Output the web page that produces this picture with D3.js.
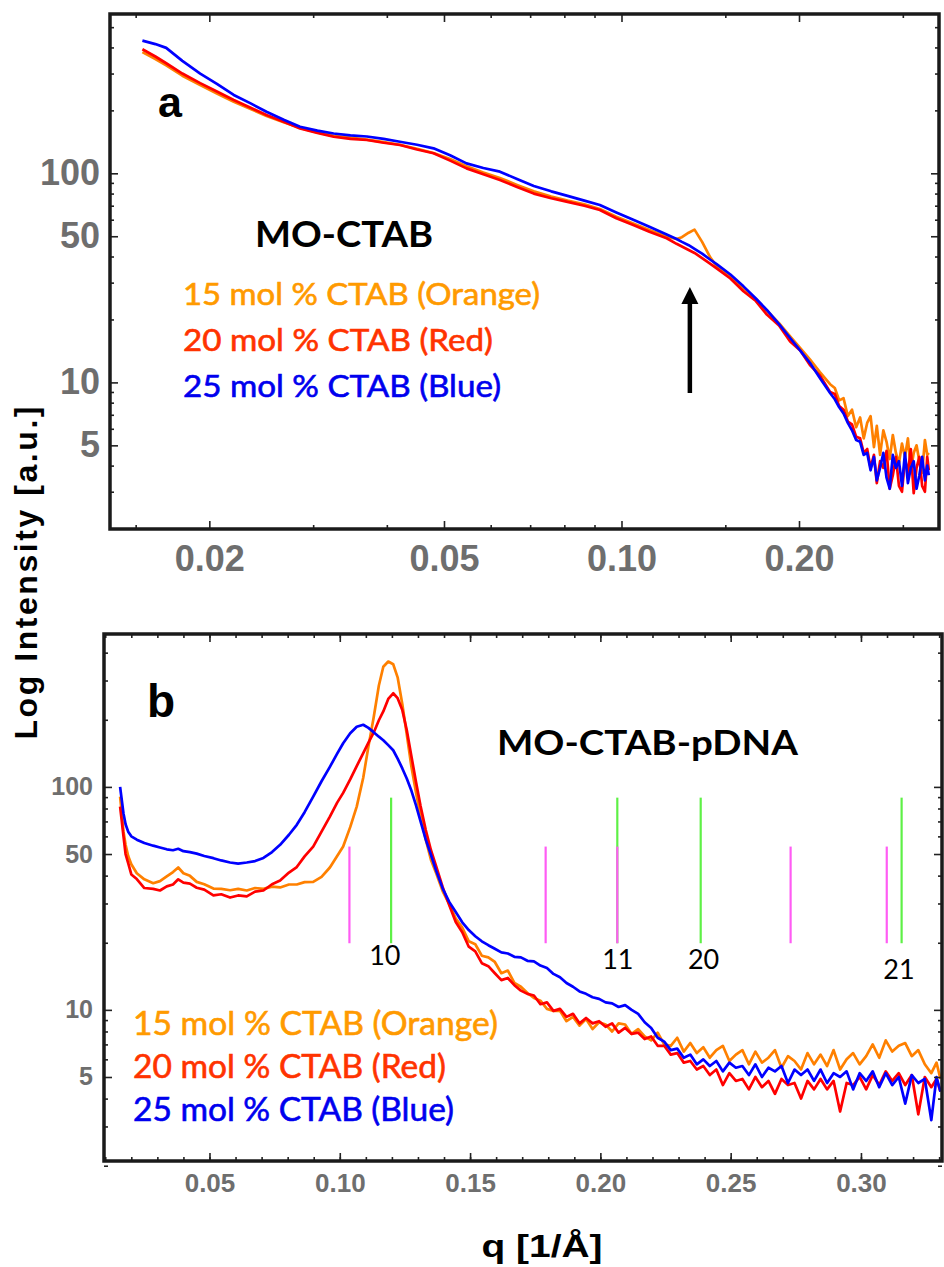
<!DOCTYPE html>
<html>
<head>
<meta charset="utf-8">
<script src="https://cdn.jsdelivr.net/npm/d3@7"></script>
<style>
  html, body { margin: 0; padding: 0; background: #fff; }
  svg { display: block; }
</style>
</head>
<body>
<div id="chart"></div>
<script>
// series labels and colours
const seriesNames = ['15 mol % CTAB (Orange)', '20 mol % CTAB (Red)', '25 mol % CTAB (Blue)'];
const lineColors = ['#ff8000', '#ff0000', '#0000ff'];
const legendColors = ['#ff9a00', '#ff3300', '#0000ee'];

// panel a : MO-CTAB (log q, log I)
const qA = [
  0.0154, 0.0162, 0.0169, 0.0180, 0.0193, 0.0206, 0.0220, 0.0235, 0.0250, 0.0268,
  0.0285, 0.0305, 0.0325, 0.0347, 0.0370, 0.0395, 0.0421, 0.0450, 0.0480, 0.0512,
  0.0546, 0.0583, 0.0622, 0.0665, 0.0710, 0.0760, 0.0810, 0.0865, 0.0919, 0.0980,
  0.1047, 0.1115, 0.1193, 0.1240, 0.1266, 0.1300, 0.1330, 0.1370, 0.1415, 0.1450,
  0.1530, 0.1610, 0.1690, 0.1764, 0.1850, 0.1932, 0.2010, 0.2087, 0.2170, 0.2258,
  0.2300, 0.2340, 0.2380, 0.2420, 0.2460, 0.2500, 0.2539, 0.2575, 0.2610, 0.2645,
  0.2680, 0.2710, 0.2745, 0.2780, 0.2815, 0.2850, 0.2885, 0.2920, 0.2955, 0.2990,
  0.3025, 0.3060, 0.3095, 0.3130, 0.3165, 0.3200, 0.3235, 0.3270, 0.3300, 0.3320
];
const orangeA = [
  380, 352, 328, 293, 264, 241, 220, 203, 188, 175,
  165, 157, 151, 148, 145, 141, 137, 131, 125, 117,
  108, 101, 95, 88, 82, 77.5, 74, 71, 67.5, 62,
  57.5, 53.5, 49.8, 48.5, 49.5, 52, 53.8, 47, 39.5, 36,
  32, 28.3, 25, 22, 19.2, 16.6, 14.6, 12.9, 11.2, 9.8,
  9.4, 8.2, 8.4, 6.9, 7.4, 6.1, 6.8, 5.4, 6.4, 6.9,
  4.9, 6.2, 4.5, 5.9, 5.2, 4.3, 5.6, 4.6, 4.1, 5.1,
  4.4, 5.4, 3.8, 4.6, 5.0, 4.2, 3.7, 5.3, 4.5, 4.6
];
const redA = [
  392, 362, 336, 300, 270, 246, 224, 206, 190, 176,
  164, 156, 149.6, 146, 144.3, 140, 136.6, 130, 124.7, 115,
  105.6, 99, 92.9, 86, 80, 76, 73, 70, 66.8, 61,
  56.6, 52.5, 48.9, 46, 44.7, 43.0, 41.6, 39.3, 36.9, 35.1,
  31.4, 27.3, 24.5, 21.1, 18.7, 15.7, 14.2, 12.1, 10.8, 9.0,
  8.8, 7.7, 7.4, 6.5, 6.3, 5.5, 5.4, 4.6, 4.8, 3.9,
  4.5, 3.3, 4.2, 3.9, 4.7, 3.1, 3.6, 4.4, 3.2, 3.0,
  4.3, 3.7, 4.8, 2.95, 3.9, 4.4, 3.2, 3.0, 4.4, 3.8
];
const blueA = [
  431, 415, 398, 345, 300, 268, 237, 216, 197, 180,
  167, 160, 155, 152, 150, 146, 141.6, 137, 131.7, 122,
  111.6, 106, 101.8, 94, 87, 82, 78, 74, 70.5, 65,
  60, 55.5, 51, 48.5, 47, 45.3, 43.5, 41.3, 38.6, 36.8,
  32.8, 28.8, 25.2, 22.2, 19.0, 16.3, 14.2, 12.4, 10.5, 8.9,
  8.3, 7.6, 7.1, 6.4, 5.9, 5.3, 5.2, 4.5, 4.6, 3.8,
  4.4, 3.4, 3.9, 4.6, 3.5, 3.1, 4.5, 3.9, 4.2, 3.2,
  4.6, 3.3, 3.9, 4.2, 3.1, 3.6, 4.4, 3.4, 4.0, 3.6
];

// panel b : MO-CTAB-pDNA (linear q, log I)
const qB = [
  0.0157, 0.0163, 0.0170, 0.0178, 0.0188, 0.0200, 0.0221, 0.0250, 0.0284, 0.0310,
  0.0336, 0.0360, 0.0380, 0.0400, 0.0425, 0.0451, 0.0480, 0.0515, 0.0545, 0.0579,
  0.0610, 0.0643, 0.0675, 0.0707, 0.0740, 0.0771, 0.0805, 0.0835, 0.0865, 0.0898,
  0.0930, 0.0962, 0.0990, 0.1013, 0.1040, 0.1065, 0.1090, 0.1110, 0.1130, 0.1150,
  0.1167, 0.1186, 0.1205, 0.1222, 0.1240, 0.1257, 0.1275, 0.1292, 0.1310, 0.1330,
  0.1350, 0.1370, 0.1395, 0.1420, 0.1445, 0.1470, 0.1495, 0.1520, 0.1545, 0.1570,
  0.1595, 0.1620, 0.1645, 0.1670, 0.1695, 0.1720, 0.1745, 0.1770, 0.1795, 0.1820,
  0.1845, 0.1870, 0.1895, 0.1920, 0.1945, 0.1970, 0.1995, 0.2020, 0.2045, 0.2070,
  0.2095, 0.2120, 0.2145, 0.2170, 0.2195, 0.2220, 0.2245, 0.2270, 0.2295, 0.2320,
  0.2345, 0.2370, 0.2395, 0.2420, 0.2445, 0.2470, 0.2495, 0.2520, 0.2545, 0.2570,
  0.2595, 0.2620, 0.2645, 0.2670, 0.2695, 0.2720, 0.2745, 0.2770, 0.2795, 0.2820,
  0.2845, 0.2870, 0.2895, 0.2920, 0.2945, 0.2970, 0.2995, 0.3020, 0.3045, 0.3070,
  0.3095, 0.3120, 0.3145, 0.3170, 0.3195, 0.3220, 0.3245, 0.3270, 0.3290, 0.3305
];
const orangeB = [
  90.5, 77, 63, 55, 49, 45, 41, 38.5, 37, 37.8,
  39.7, 41.5, 43.5, 41.0, 39.9, 37.5, 36.6, 35.0, 34.9, 34.4,
  34.9, 34.3, 35.2, 34.9, 35.7, 35.4, 36.5, 36.5, 37.4, 37.5,
  39.5, 43.5, 49, 54, 66, 81.6, 110, 152, 205, 285,
  346, 365, 355, 310, 235, 172, 123, 95, 74, 58,
  47, 41, 34, 29.8, 25.7, 23.4, 20.3, 19.7, 17.5, 17.2,
  16.4, 14.6, 15.0, 13.2, 12.7, 11.9, 11.3, 11.0, 10.1, 9.9,
  9.9, 8.9, 9.3, 8.5, 9.1, 8.2, 8.8, 8.6, 8.0, 8.7,
  8.6, 7.8, 8.2, 7.6, 7.3, 7.9, 7.0, 6.9, 7.5, 6.5,
  7.1, 6.4, 6.8, 6.1, 6.6, 6.9, 5.9, 6.3, 6.6, 5.7,
  6.5, 5.8, 6.1, 6.6, 5.5, 6.2, 5.9, 5.4, 6.4, 5.7,
  6.3, 5.6, 6.6, 5.4, 6.0, 6.4, 5.7, 6.2, 7.0, 6.1,
  7.3, 6.5, 6.9, 7.1, 6.2, 6.6, 5.7, 5.2, 5.8, 4.9
];
const redB = [
  81.6, 71, 60, 50, 45.5, 40.5, 38.6, 35.2, 34.9, 34.3,
  35.8, 36.5, 38.5, 37.2, 36.8, 35.3, 34.6, 32.6, 33.0, 31.9,
  32.6, 32.3, 33.9, 34.3, 36.6, 38.0, 41.3, 43.7, 48.8, 54,
  63, 73.6, 85, 94, 108, 124, 141.6, 158, 175, 199,
  218, 248, 263, 250, 221, 180, 137, 106, 82, 64,
  52, 44, 35.5, 29.5, 24.8, 22.3, 19.2, 18.3, 16.2, 15.7,
  14.6, 13.6, 13.9, 12.9, 12.2, 11.8, 11.6, 10.6, 10.8, 9.9,
  10.1, 9.3, 9.6, 8.7, 9.2, 8.7, 8.9, 8.4, 8.7, 7.9,
  8.3, 7.8, 7.9, 7.4, 7.6, 6.9, 6.9, 6.3, 6.4, 5.8,
  5.9, 5.4, 5.6, 5.1, 5.4, 4.6, 5.2, 4.8, 4.9, 4.4,
  5.0, 4.5, 4.8, 4.2, 4.9, 4.6, 4.7, 4.0, 4.8, 4.4,
  4.9, 4.4, 4.8, 3.5, 4.7, 4.6, 5.0, 4.4, 5.1, 4.6,
  5.3, 4.8, 5.2, 4.6, 5.1, 3.4, 5.0, 4.5, 4.9, 4.3
];
const blueB = [
  100, 88, 76, 68, 63, 60, 58, 56, 54.5, 53.5,
  52.5, 52, 52.8, 51.5, 51, 50.2, 49, 47.9, 46.8, 45.8,
  45.3, 45.8, 46.5, 48, 51, 55, 61, 67.6, 77, 90.5,
  106, 123, 141, 157, 174, 186, 190, 184, 176, 168,
  162, 154, 146, 134, 121, 109, 96, 83, 70, 58,
  49.5, 42, 35, 30.5, 27.5, 24.7, 22.8, 21.4, 20.3, 19.5,
  18.8, 18.1, 17.9, 17.3, 17.2, 16.6, 16.5, 15.8, 15.4, 14.5,
  14.0, 13.2, 12.7, 12.1, 11.8, 11.4, 11.2, 10.8, 10.7, 10.3,
  10.5, 10.0, 9.6, 8.8, 8.3, 7.5, 7.2, 6.6, 6.7, 6.1,
  6.3, 5.7, 6.0, 5.6, 5.9, 5.3, 5.8, 5.5, 5.6, 5.1,
  5.7, 5.0, 5.5, 5.3, 5.6, 4.7, 5.4, 5.1, 5.4, 4.8,
  5.4, 4.7, 5.2, 5.0, 5.3, 4.4, 5.2, 4.8, 5.3, 4.5,
  5.2, 4.6, 5.0, 3.8, 5.1, 4.7, 4.9, 3.2, 5.0, 4.3
];

// Bragg peak positions marked in panel b
const peaksMagenta = [0.1037, 0.1790, 0.2065, 0.2730, 0.3099];
const peaksGreen = [0.1197, 0.2065, 0.2385, 0.3156];
const peakLabels = ['10', '11', '20', '21'];
const peakLabelQ = [0.1173, 0.2067, 0.2396, 0.3146];
const markerTop = { magenta: 54, green: 89.5 };
const markerBottom = 19.9;

// arrow in panel a
const arrowQ = 0.1306;
const arrowFrom = 8.9;
const arrowTo = 28.6;

// ticks
const yMajor = [5, 10, 50, 100];
const yMinor = [2, 3, 4, 6, 7, 8, 9, 20, 30, 40, 60, 70, 80, 90, 200, 300, 400, 500];
const xMajorA = [0.02, 0.05, 0.1, 0.2];
const xMinorA = [0.015, 0.03, 0.04, 0.06, 0.07, 0.08, 0.09, 0.15, 0.3];
const xMajorB = [0.05, 0.10, 0.15, 0.20, 0.25, 0.30];
const xMinorB = d3.range(1, 34).map(d => d / 100);

const W = 944, H = 1267;
const tickFont = '"Liberation Sans", Arial, sans-serif';
const textFont = 'Lato, "Open Sans", sans-serif';

const svg = d3.select('#chart').append('svg')
  .attr('width', W)
  .attr('height', H);

function zipSeries(q, v) {
  return q.map((d, i) => [d, v[i]]).filter(d => d[1] != null);
}

function drawAxes(box, x, y, opt) {
  const g = svg.append('g');
  const style = sel => {
    sel.select('.domain').remove();
    sel.selectAll('.tick line').attr('stroke', '#222').attr('stroke-width', 1.6);
    sel.selectAll('text')
      .attr('font-family', tickFont)
      .attr('font-weight', 'bold')
      .attr('fill', '#6e6e6e');
  };

  g.append('g').attr('transform', `translate(0,${box.bottom})`)
    .call(d3.axisBottom(x).tickValues(opt.xMajor).tickFormat(d3.format('.2f'))
      .tickSize(-8).tickPadding(opt.xPad))
    .call(style)
    .selectAll('text').attr('font-size', opt.xFont);
  g.append('g').attr('transform', `translate(0,${box.bottom})`)
    .call(d3.axisBottom(x).tickValues(opt.xMinor).tickFormat('').tickSize(-4))
    .call(style);
  g.append('g').attr('transform', `translate(0,${box.top})`)
    .call(d3.axisTop(x).tickValues(opt.xMajor).tickFormat('').tickSize(-8))
    .call(style);
  g.append('g').attr('transform', `translate(0,${box.top})`)
    .call(d3.axisTop(x).tickValues(opt.xMinor).tickFormat('').tickSize(-4))
    .call(style);

  g.append('g').attr('transform', `translate(${box.left},0)`)
    .call(d3.axisLeft(y).tickValues(yMajor).tickFormat(d3.format('d'))
      .tickSize(-8).tickPadding(opt.yPad))
    .call(style)
    .selectAll('text').attr('font-size', opt.yFont);
  g.append('g').attr('transform', `translate(${box.left},0)`)
    .call(d3.axisLeft(y).tickValues(opt.yMinor).tickFormat('').tickSize(-4))
    .call(style);
  g.append('g').attr('transform', `translate(${box.right},0)`)
    .call(d3.axisRight(y).tickValues(yMajor).tickFormat('').tickSize(-8))
    .call(style);
  g.append('g').attr('transform', `translate(${box.right},0)`)
    .call(d3.axisRight(y).tickValues(opt.yMinor).tickFormat('').tickSize(-4))
    .call(style);

  svg.append('rect')
    .attr('x', box.left).attr('y', box.top)
    .attr('width', box.right - box.left).attr('height', box.bottom - box.top)
    .attr('fill', 'none')
    .attr('stroke', '#1a1a1a')
    .attr('stroke-width', 3.5);
}

function drawCurves(id, box, x, y, sets) {
  svg.append('clipPath').attr('id', id)
    .append('rect')
    .attr('x', box.left).attr('y', box.top)
    .attr('width', box.right - box.left).attr('height', box.bottom - box.top);

  const line = d3.line()
    .x(d => x(d[0]))
    .y(d => y(d[1]));

  svg.append('g').attr('clip-path', `url(#${id})`)
    .selectAll('path')
    .data(sets)
    .enter().append('path')
    .attr('d', d => line(d))
    .attr('fill', 'none')
    .attr('stroke', (d, i) => lineColors[i])
    .attr('stroke-width', 2.7)
    .attr('stroke-linejoin', 'round');
}

function drawLegend(x0, baselines, widths, size) {
  svg.append('g').selectAll('text')
    .data(seriesNames)
    .enter().append('text')
    .attr('x', x0)
    .attr('y', (d, i) => baselines[i])
    .attr('textLength', (d, i) => widths[i])
    .attr('lengthAdjust', 'spacingAndGlyphs')
    .attr('font-family', textFont)
    .attr('font-size', size)
    .attr('fill', (d, i) => legendColors[i])
    .attr('stroke', (d, i) => legendColors[i])
    .attr('stroke-width', 0.6)
    .text(d => d);
}

function label(txt, x, y, size, opts = {}) {
  const t = svg.append('text')
    .attr('x', x).attr('y', y)
    .attr('font-family', opts.family || textFont)
    .attr('font-size', size)
    .attr('font-weight', opts.weight || 'normal')
    .attr('fill', opts.fill || '#000')
    .attr('text-anchor', opts.anchor || 'start')
    .text(txt);
  if (opts.length) t.attr('textLength', opts.length).attr('lengthAdjust', 'spacingAndGlyphs');
  return t;
}

// ---- panel a ----
const boxA = { left: 110, top: 14, right: 939, bottom: 529 };
const xA = d3.scaleLog().domain([0.01357, 0.3455]).range([boxA.left, boxA.right]);
const yA = d3.scaleLog().domain([1.99, 578]).range([boxA.bottom, boxA.top]);

drawCurves('clipA', boxA, xA, yA, [zipSeries(qA, orangeA), zipSeries(qA, redA), zipSeries(qA, blueA)]);
drawAxes(boxA, xA, yA, {
  xMajor: xMajorA, xMinor: xMinorA, yMinor: yMinor,
  xPad: 16, yPad: 10, xFont: 36, yFont: 36
});

// arrow
const ax = xA(arrowQ);
svg.append('line')
  .attr('x1', ax).attr('x2', ax)
  .attr('y1', yA(arrowFrom)).attr('y2', yA(arrowTo) + 14)
  .attr('stroke', '#000').attr('stroke-width', 4.5);
svg.append('path')
  .attr('d', `M${ax},${yA(arrowTo)} L${ax - 8.5},${yA(arrowTo) + 17} L${ax + 8.5},${yA(arrowTo) + 17} Z`)
  .attr('fill', '#000');

label('a', 158, 117, 43, { family: tickFont, weight: 'bold' });
label('MO-CTAB', 255, 247, 37, { weight: 'bold', length: 178 });
drawLegend(183, [305, 351, 397], [357, 310, 318], 30);

// ---- panel b ----
const boxB = { left: 104, top: 634, right: 942, bottom: 1161 };
const xB = d3.scaleLinear().domain([0.00952, 0.3311]).range([boxB.left, boxB.right]);
const yB = d3.scaleLog().domain([2.1, 485]).range([boxB.bottom, boxB.top]);

// peak markers (green under magenta)
svg.append('g').selectAll('line')
  .data(peaksGreen)
  .enter().append('line')
  .attr('x1', d => xB(d)).attr('x2', d => xB(d))
  .attr('y1', yB(markerTop.green)).attr('y2', yB(markerBottom))
  .attr('stroke', '#5ef046').attr('stroke-width', 2.2);
svg.append('g').selectAll('line')
  .data(peaksMagenta)
  .enter().append('line')
  .attr('x1', d => xB(d)).attr('x2', d => xB(d))
  .attr('y1', yB(markerTop.magenta)).attr('y2', yB(markerBottom))
  .attr('stroke', '#ff5cf4').attr('stroke-width', 2.2);

const labelDrop = [22, 26, 26, 36];
svg.append('g').selectAll('text')
  .data(peakLabels)
  .enter().append('text')
  .attr('x', (d, i) => xB(peakLabelQ[i]))
  .attr('y', (d, i) => yB(markerBottom) + labelDrop[i])
  .attr('text-anchor', 'middle')
  .attr('font-family', textFont)
  .attr('font-size', 27)
  .attr('fill', '#000')
  .text(d => d);

drawCurves('clipB', boxB, xB, yB, [zipSeries(qB, orangeB), zipSeries(qB, redB), zipSeries(qB, blueB)]);
drawAxes(boxB, xB, yB, {
  xMajor: xMajorB, xMinor: xMinorB, yMinor: yMinor.filter(d => d < 500),
  xPad: 13, yPad: 11, xFont: 26, yFont: 25
});

label('b', 147, 717, 46, { family: tickFont, weight: 'bold' });
label('MO-CTAB-pDNA', 497, 755, 35, { weight: 'bold', length: 301 });
drawLegend(133, [1035, 1078, 1121], [365, 313, 321], 32);

// axis titles
svg.append('text')
  .attr('transform', 'translate(37,573) rotate(-90)')
  .attr('text-anchor', 'middle')
  .attr('font-family', tickFont)
  .attr('font-weight', 'bold')
  .attr('font-size', 32)
  .attr('textLength', 333)
  .attr('lengthAdjust', 'spacing')
  .attr('fill', '#000')
  .text('Log Intensity [a.u.]');

label('q [1/Å]', 542, 1257, 32, { family: tickFont, weight: 'bold', anchor: 'middle', length: 121 });
</script>
</body>
</html>
